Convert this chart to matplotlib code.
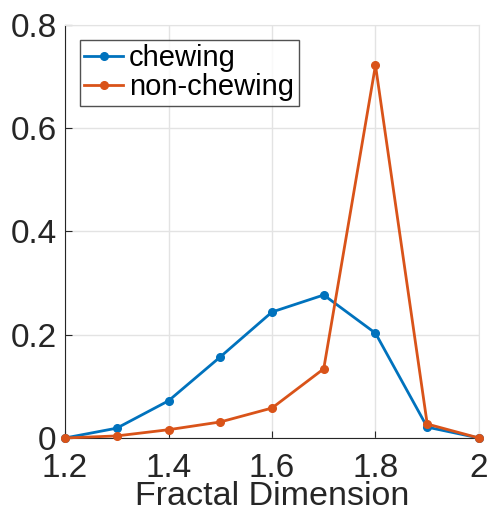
import numpy as np
import matplotlib.pyplot as plt

plt.rcParams['font.family'] = ['Liberation Sans', 'DejaVu Sans']

fd = [1.2, 1.3, 1.4, 1.5, 1.6, 1.7, 1.8, 1.9, 2.0]
chewing = [0.0, 0.019, 0.072, 0.157, 0.244, 0.277, 0.203, 0.021, 0.0]
non_chewing = [0.0, 0.004, 0.016, 0.031, 0.058, 0.134, 0.722, 0.027, 0.0]

fig = plt.figure(figsize=(4.87, 5.16), dpi=100)
ax = fig.add_axes([0.1335, 0.1512, 0.850, 0.8004])

ax.plot(fd, chewing, '.-', color='#0072BD', lw=2, ms=11, label='chewing', clip_on=False, zorder=3)
ax.plot(fd, non_chewing, '.-', color='#D95319', lw=2, ms=11, label='non-chewing', clip_on=False, zorder=3)

ax.set_xlim(1.2, 2)
ax.set_ylim(0, 0.8)
ax.set_xticks([1.2, 1.4, 1.6, 1.8, 2.0])
ax.set_xticklabels(['1.2', '1.4', '1.6', '1.8', '2'])
ax.set_yticks([0, 0.2, 0.4, 0.6, 0.8])
ax.set_yticklabels(['0', '0.2', '0.4', '0.6', '0.8'])
ax.grid(True, color='#e3e3e3', lw=1)
ax.set_axisbelow(True)
for s in ['top', 'right']:
    ax.spines[s].set_color('#e3e3e3')
for s in ['left', 'bottom']:
    ax.spines[s].set_color('#262626')
ax.tick_params(direction='in', labelsize=24, colors='#262626', length=5)
ax.tick_params(axis='x', pad=11)
ax.tick_params(axis='y', pad=6)
ax.tick_params(top=False, right=False)
ax.set_xlabel('Fractal Dimension', fontsize=24.5, color='#262626', labelpad=-2)

leg = ax.legend(loc='upper left', fontsize=21, frameon=True, fancybox=False,
                edgecolor='#262626', handlelength=1.35, handletextpad=0.2,
                borderpad=0.15, labelspacing=0.05, borderaxespad=0.5)
leg.get_frame().set_linewidth(1)

plt.savefig('out.png')
